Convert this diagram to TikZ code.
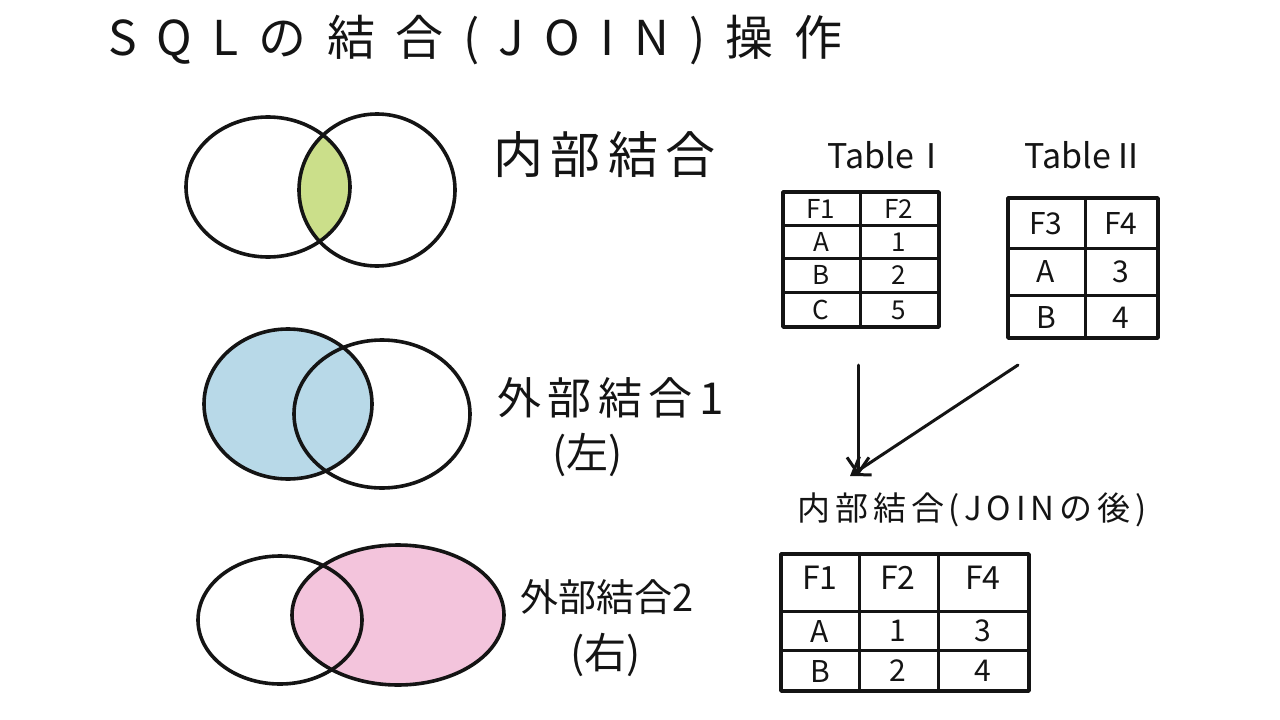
\documentclass[tikz,border=0pt]{standalone}
\usepackage{fontspec}
\setmainfont{Noto Sans CJK JP}
\newfontfamily\jpfont{Noto Sans CJK JP}
\newfontfamily\jpwide[LetterSpace=42]{Noto Sans CJK JP}
\newfontfamily\jpmid[LetterSpace=15]{Noto Sans CJK JP}
\usetikzlibrary{arrows.meta}
\definecolor{ink}{RGB}{20,20,20}
\definecolor{greenfill}{RGB}{203,223,138}
\definecolor{bluefill}{RGB}{184,217,232}
\definecolor{pinkfill}{RGB}{243,196,220}
\tikzset{
  pen/.style={draw=ink, line width=3.6pt, line cap=round, line join=round},
  thinpen/.style={draw=ink, line width=3pt, line cap=round},
  lbl/.style={font=\jpfont\fontsize{38}{44}\selectfont, text=ink, inner sep=0pt},
  cell/.style={font=\jpfont\fontsize{26}{30}\selectfont, text=ink, inner sep=0pt},
  tlabel/.style={font=\jpfont\fontsize{34}{40}\selectfont, text=ink, inner sep=0pt},
  arr/.style={draw=ink, line width=3pt, line cap=round, -{Straight Barb[length=16pt,width=22pt,line width=3pt]}},
}
\begin{document}
\begin{tikzpicture}[x=1pt,y=-1pt]
\useasboundingbox (0,0) rectangle (1280,720);
\fill[white] (0,0) rectangle (1280,720);

% title
\node[lbl, font=\jpwide\fontsize{48}{54}\selectfont, anchor=west] (title) at (108,40) {SQLの結合(JOIN)操作};

% Venn 1: inner join
\begin{scope}
  \clip (268,187) ellipse [x radius=82pt, y radius=70pt];
  \fill[greenfill] (377,190) ellipse [x radius=78pt, y radius=76pt];
\end{scope}
\draw[pen] (268,187) ellipse [x radius=82pt, y radius=70pt];
\draw[pen] (377,190) ellipse [x radius=78pt, y radius=76pt];
\node[lbl, font=\jpmid\fontsize{50}{56}\selectfont, anchor=west] (inner) at (493,155) {内部結合};

% Venn 2: left outer
\fill[bluefill] (288,404) ellipse [x radius=84pt, y radius=75pt];
\draw[pen] (288,404) ellipse [x radius=84pt, y radius=75pt];
\draw[pen] (382,414) ellipse [x radius=88pt, y radius=74pt];
\node[lbl, font=\jpmid\fontsize{44}{50}\selectfont, anchor=west] (louter) at (497,398) {外部結合1};
\node[lbl, font=\jpfont\fontsize{42}{48}\selectfont, anchor=west] (lleft) at (552,455) {(左)};

% Venn 3: right outer
\fill[pinkfill] (398,615) ellipse [x radius=106pt, y radius=70pt];
\draw[pen] (280,620) ellipse [x radius=82pt, y radius=64pt];
\draw[pen] (398,615) ellipse [x radius=106pt, y radius=70pt];
\node[lbl, anchor=west] (router) at (520,597) {外部結合2};
\node[lbl, font=\jpfont\fontsize{42}{48}\selectfont, anchor=west] (rright) at (570,655) {(右)};

% Table I
\node[tlabel] (t1name) at (888,155) {TableⅠ};
\draw[pen] (783,192) rectangle (939,327);
\draw[thinpen] (860,192) -- (860,327);
\draw[thinpen] (783,225) -- (939,225);
\draw[thinpen] (783,258) -- (939,258);
\draw[thinpen] (783,292) -- (939,292);
\node[cell] (t1a) at (821,209) {F1};
\node[cell] (t1b) at (899,209) {F2};
\node[cell] (t1c) at (821,242) {A};
\node[cell] (t1d) at (899,242) {1};
\node[cell] (t1e) at (821,275) {B};
\node[cell] (t1f) at (899,275) {2};
\node[cell] (t1g) at (821,310) {C};
\node[cell] (t1h) at (899,310) {5};
\coordinate (t1bot) at (858,365);

% Table II
\node[tlabel] (t2name) at (1085,155) {TableⅡ};
\draw[pen] (1008,198) rectangle (1158,338);
\draw[thinpen] (1085,198) -- (1085,338);
\draw[thinpen] (1008,248) -- (1158,248);
\draw[thinpen] (1008,295) -- (1158,295);
\node[cell, font=\jpfont\fontsize{30}{34}\selectfont] (t2a) at (1046,224) {F3};
\node[cell, font=\jpfont\fontsize{30}{34}\selectfont] (t2b) at (1121,224) {F4};
\node[cell, font=\jpfont\fontsize{30}{34}\selectfont] (t2c) at (1046,272) {A};
\node[cell, font=\jpfont\fontsize{30}{34}\selectfont] (t2d) at (1121,272) {3};
\node[cell, font=\jpfont\fontsize{30}{34}\selectfont] (t2e) at (1046,318) {B};
\node[cell, font=\jpfont\fontsize{30}{34}\selectfont] (t2f) at (1121,318) {4};
\coordinate (t2bot) at (1018,365);

% result label
\node[lbl, font=\jpmid\fontsize{33}{38}\selectfont] (res) at (972,510) {内部結合(JOINの後)};
\coordinate (resin1) at (858,476);
\coordinate (resin2) at (850,476);

% arrows
\draw[arr] (t1bot) -- (resin1);
\draw[arr] (t2bot) -- (resin2);

% result table
\draw[pen] (781,554) rectangle (1029,691);
\draw[thinpen] (859,554) -- (859,691);
\draw[thinpen] (938,554) -- (938,691);
\draw[thinpen] (781,611) -- (1029,611);
\draw[thinpen] (781,650) -- (1029,650);
\node[cell, font=\jpfont\fontsize{32}{36}\selectfont] (r1) at (820,578) {F1};
\node[cell, font=\jpfont\fontsize{32}{36}\selectfont] (r2) at (898,578) {F2};
\node[cell, font=\jpfont\fontsize{32}{36}\selectfont] (r3) at (983,578) {F4};
\node[cell, font=\jpfont\fontsize{30}{34}\selectfont] (r4) at (820,631) {A};
\node[cell, font=\jpfont\fontsize{30}{34}\selectfont] (r5) at (898,631) {1};
\node[cell, font=\jpfont\fontsize{30}{34}\selectfont] (r6) at (983,631) {3};
\node[cell, font=\jpfont\fontsize{30}{34}\selectfont] (r7) at (820,671) {B};
\node[cell, font=\jpfont\fontsize{30}{34}\selectfont] (r8) at (898,671) {2};
\node[cell, font=\jpfont\fontsize{30}{34}\selectfont] (r9) at (983,671) {4};
\end{tikzpicture}
\end{document}
